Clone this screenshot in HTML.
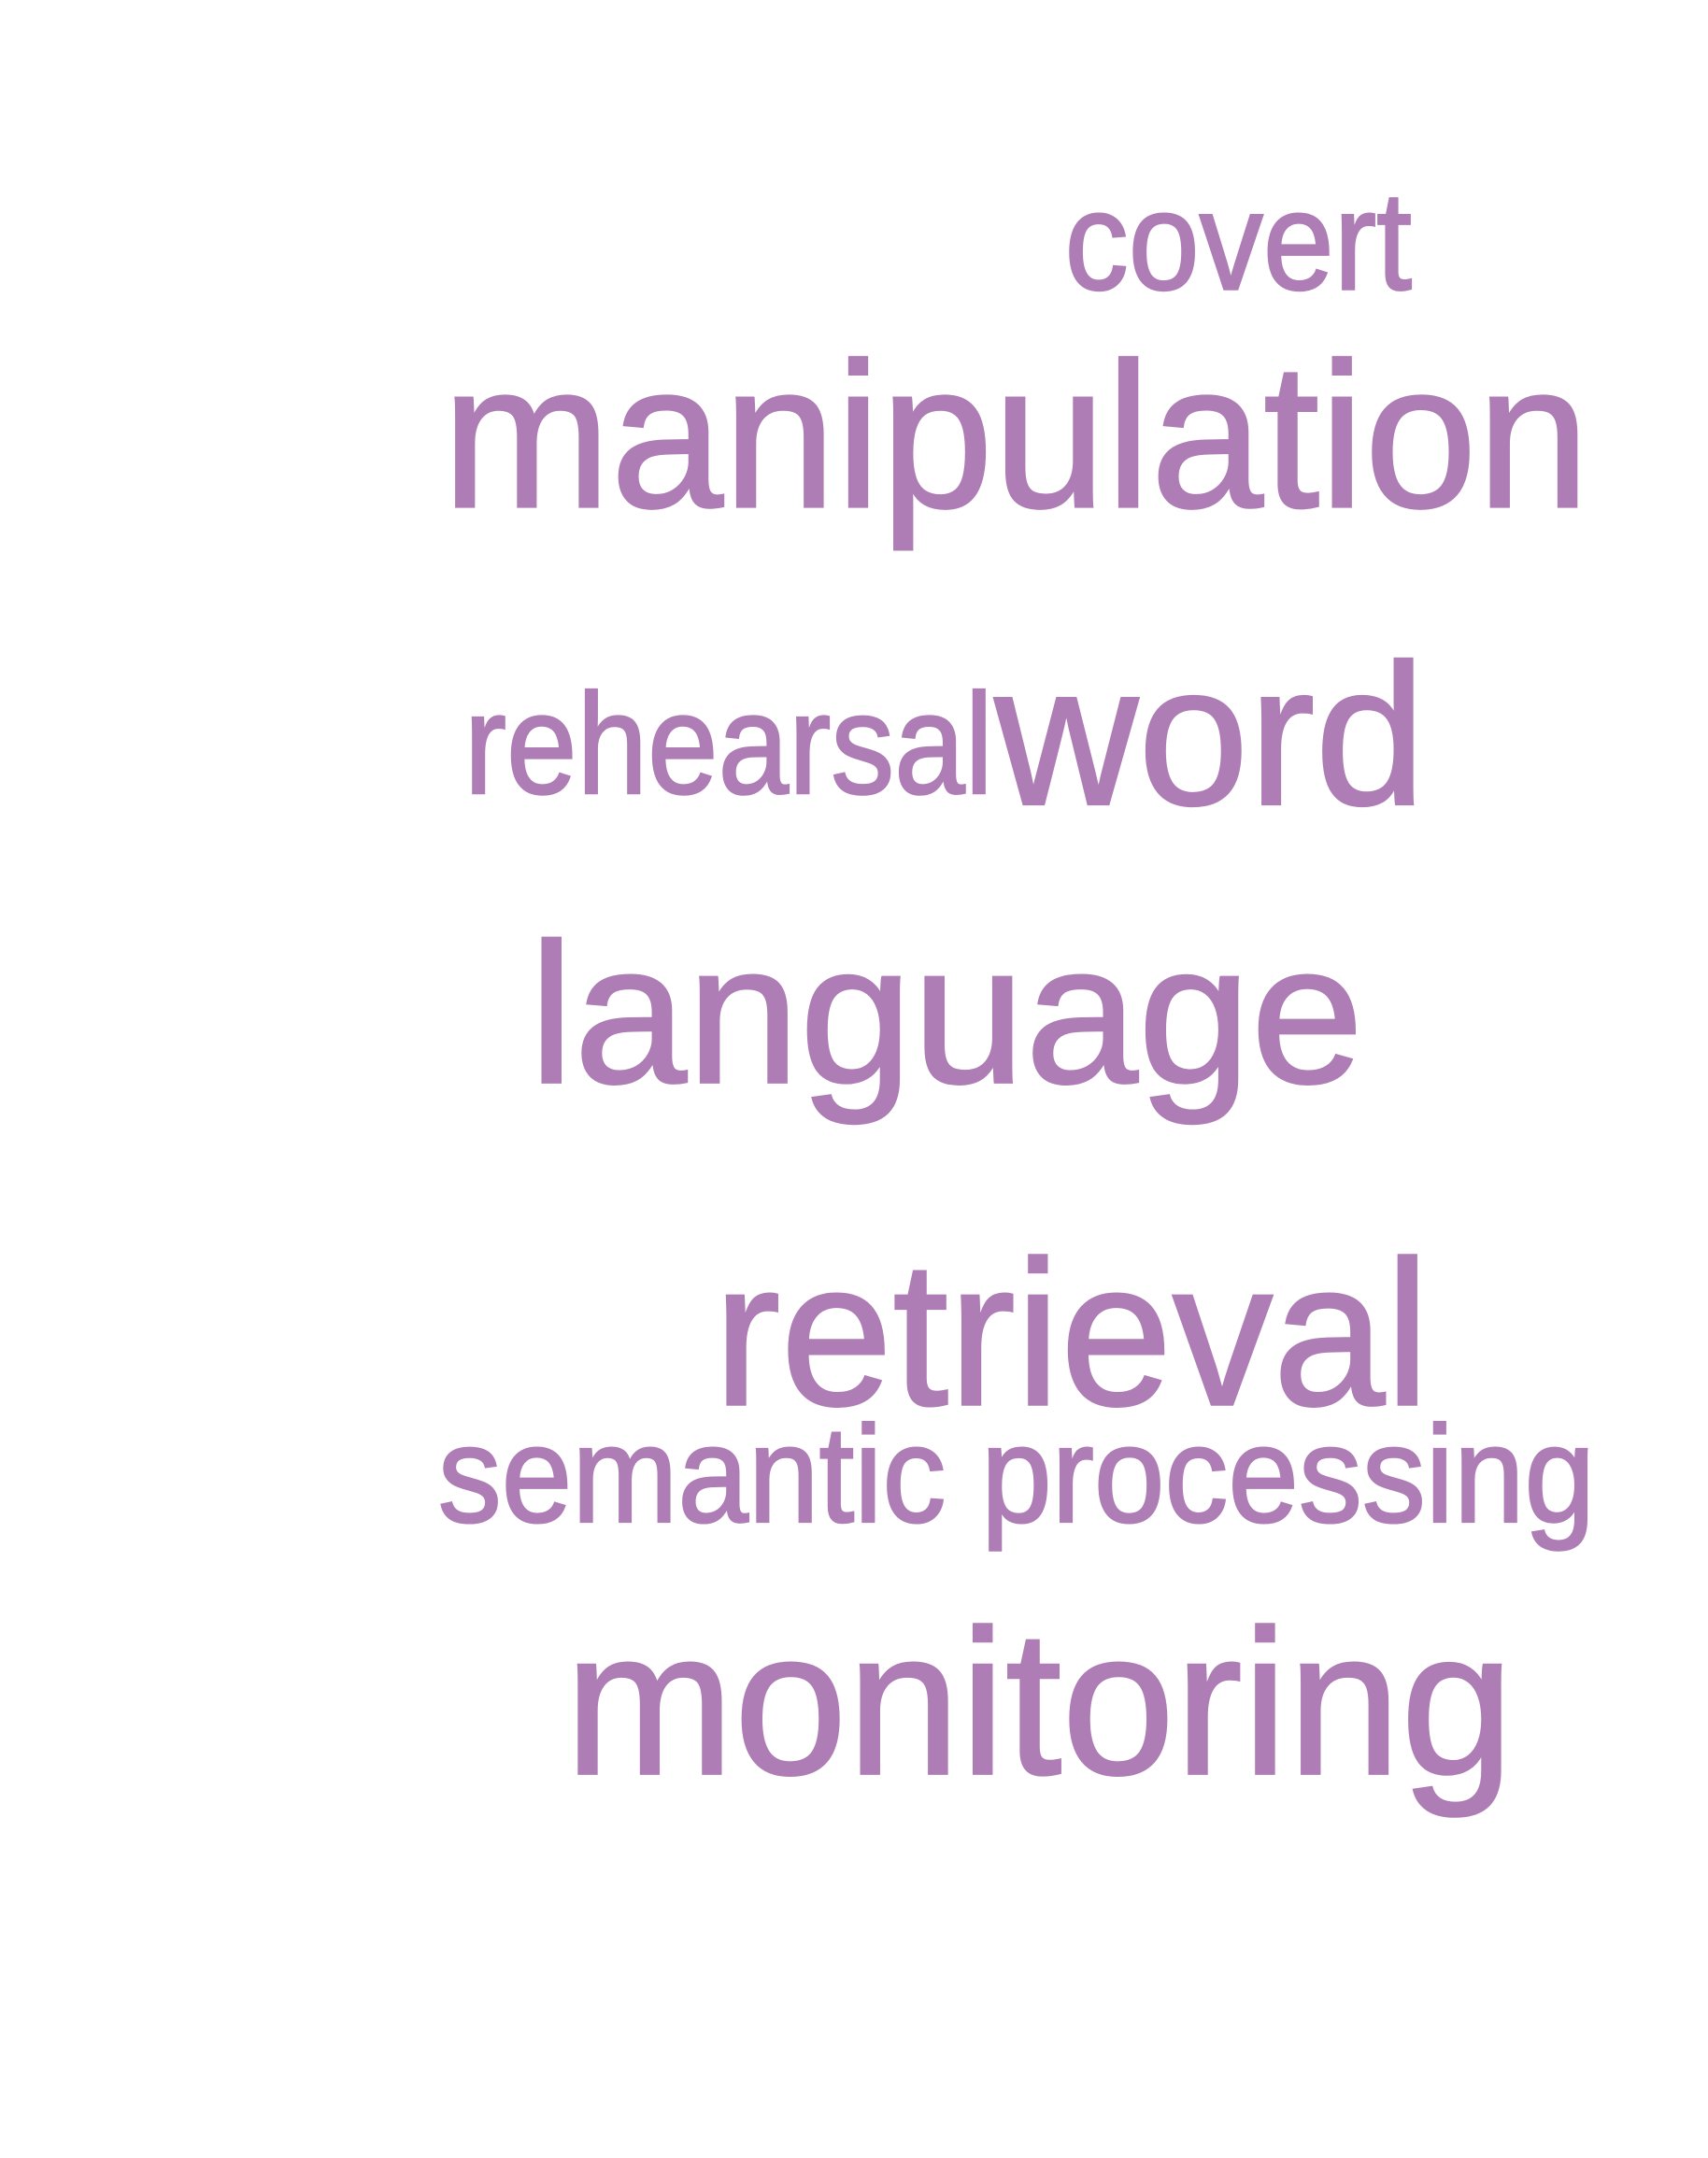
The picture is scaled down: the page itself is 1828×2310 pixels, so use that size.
<!DOCTYPE html>
<html><head><meta charset="utf-8"><style>html,body{margin:0;padding:0;background:#fff;}svg{display:block}text{font-family:"Liberation Sans",Arial,sans-serif;}</style></head>
<body>
<svg width="1828" height="2310" viewBox="0 0 1240 1567" xmlns="http://www.w3.org/2000/svg" fill="#af7db5" stroke="#af7db5" stroke-width="1.6">
<text x="773" y="210" font-size="102" textLength="252" lengthAdjust="spacingAndGlyphs">covert</text>
<text x="321" y="368" font-size="150" textLength="833" lengthAdjust="spacingAndGlyphs">manipulation</text>
<text x="337" y="576" font-size="104" textLength="384" lengthAdjust="spacingAndGlyphs">rehearsal</text>
<text x="722" y="584" font-size="146" textLength="313" lengthAdjust="spacingAndGlyphs">word</text>
<text x="384" y="786" font-size="145" textLength="606" lengthAdjust="spacingAndGlyphs">language</text>
<text x="518" y="1020" font-size="150" textLength="520" lengthAdjust="spacingAndGlyphs">retrieval</text>
<text x="318" y="1105" font-size="100" textLength="840" lengthAdjust="spacingAndGlyphs">semantic processing</text>
<text x="410" y="1288" font-size="150" textLength="689" lengthAdjust="spacingAndGlyphs">monitoring</text>
</svg>
</body></html>
